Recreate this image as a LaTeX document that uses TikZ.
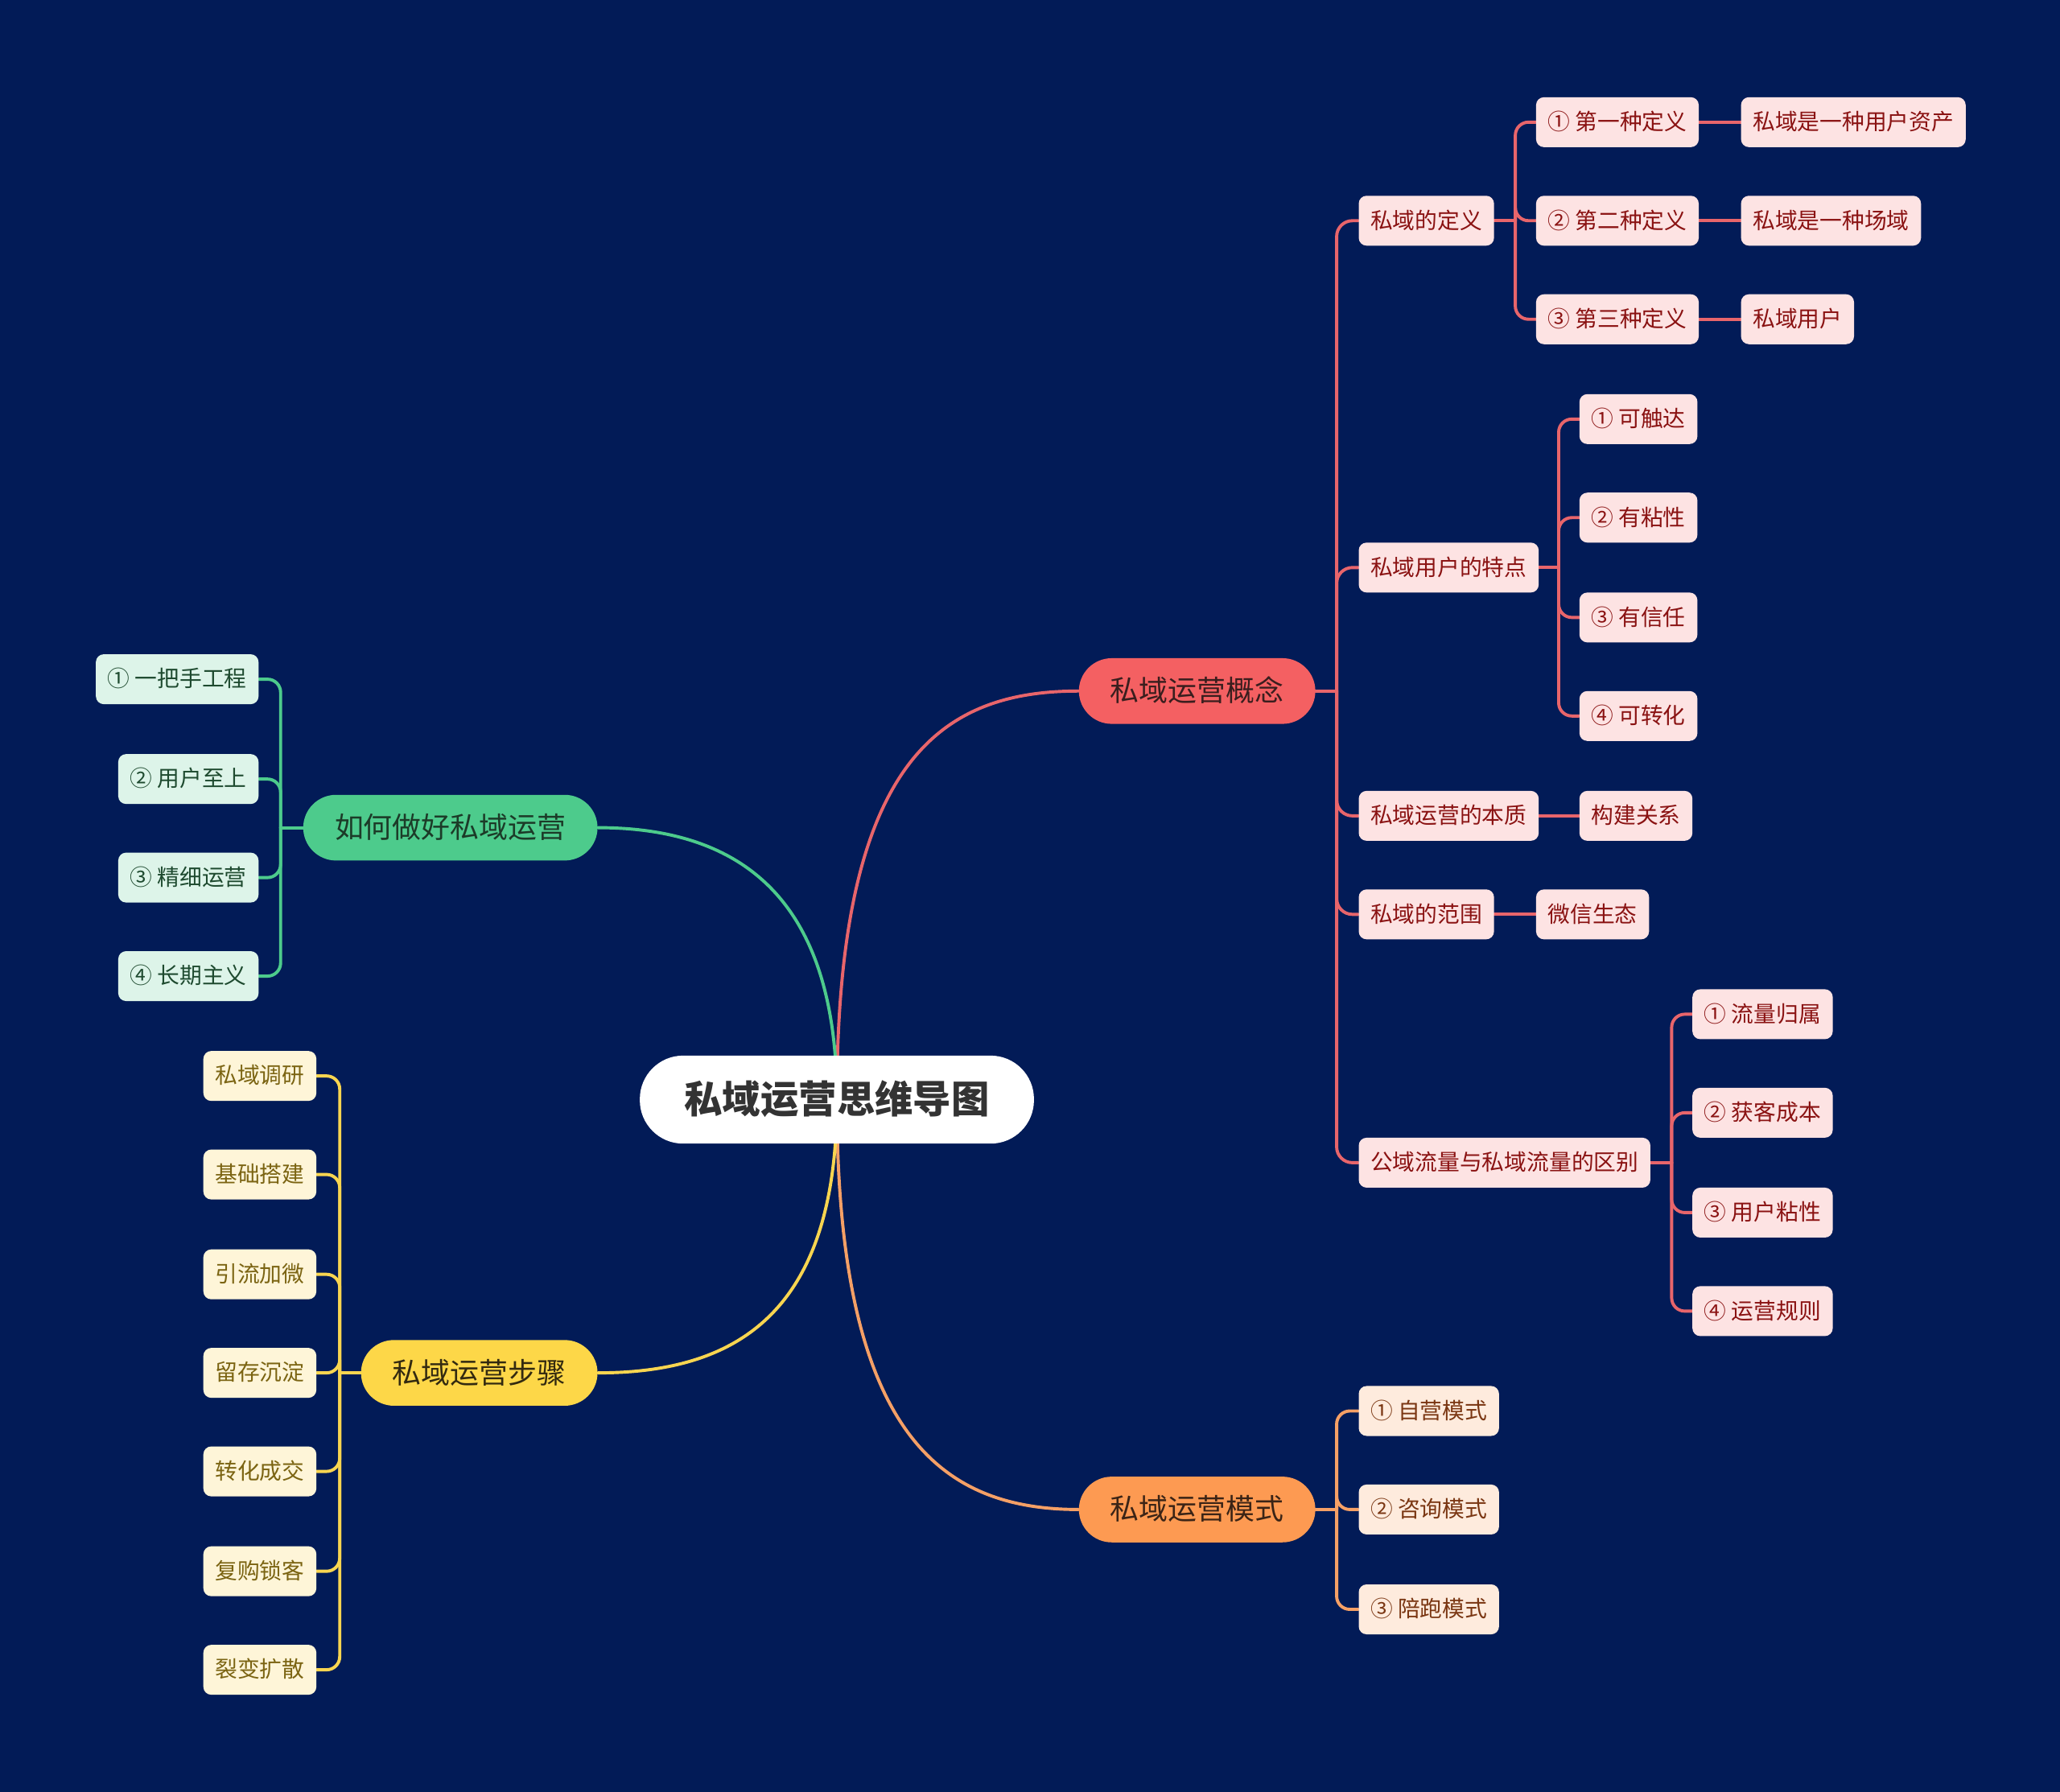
\documentclass[tikz,border=0pt]{standalone}
\usepackage{fontspec}
\setmainfont{Noto Sans CJK SC}
\usetikzlibrary{backgrounds}
\definecolor{bgc}{HTML}{021B57}
\definecolor{redmain}{HTML}{F46062}
\definecolor{redleaf}{HTML}{FDE3E3}
\definecolor{redtext}{HTML}{8A1212}
\definecolor{redline}{HTML}{E8656B}
\definecolor{redhead}{HTML}{3A1E1E}
\definecolor{ormain}{HTML}{FD9A52}
\definecolor{orleaf}{HTML}{FEEBDD}
\definecolor{ortext}{HTML}{7A3612}
\definecolor{orline}{HTML}{F5A066}
\definecolor{orhead}{HTML}{3B2416}
\definecolor{grmain}{HTML}{4DCB8C}
\definecolor{grleaf}{HTML}{DDF4E9}
\definecolor{grtext}{HTML}{1E4A2F}
\definecolor{grline}{HTML}{4DCB8C}
\definecolor{grhead}{HTML}{1C3B28}
\definecolor{ylmain}{HTML}{FDD748}
\definecolor{ylleaf}{HTML}{FEF5D8}
\definecolor{yltext}{HTML}{7B6412}
\definecolor{ylline}{HTML}{F8D550}
\definecolor{ylhead}{HTML}{332A10}
\pgfdeclarelayer{bgl}
\pgfsetlayers{bgl,background,main}
\tikzset{
  leaf/.style={rounded corners=6pt, inner xsep=9pt, inner ysep=0pt,
    minimum height=38pt, text height=14.5pt, text depth=2.5pt,
    font=\fontsize{17}{20}\selectfont},
  redleafbox/.style={leaf, fill=redleaf, text=redtext},
  orleafbox/.style={leaf, fill=orleaf, text=ortext},
  grleafbox/.style={leaf, fill=grleaf, text=grtext},
  ylleafbox/.style={leaf, fill=ylleaf, text=yltext},
  topic/.style={rounded corners=25pt, inner xsep=24pt, inner ysep=0pt,
    minimum height=50pt, text height=19pt, text depth=3pt,
    font=\fontsize{22}{26}\selectfont},
  centerbox/.style={rounded corners=33pt, fill=white, text=black!80,
    inner xsep=34pt, inner ysep=0pt, minimum height=67pt,
    text height=25pt, text depth=4pt,
    font=\fontsize{29}{34}\selectfont\bfseries},
  conn/.style={line width=2.4pt, line cap=round},
  rconn/.style={conn, draw=redline, rounded corners=12pt},
  oconn/.style={conn, draw=orline, rounded corners=10pt},
  gconn/.style={conn, draw=grline, rounded corners=10pt},
  yconn/.style={conn, draw=ylline, rounded corners=10pt},
}
\begin{document}
\begin{tikzpicture}[x=1pt,y=-1pt]
\begin{pgfonlayer}{bgl}
\fill[bgc] (0,0) rectangle (1568,1364);
\end{pgfonlayer}
\useasboundingbox (0,0) rectangle (1568,1364);

% central
\node[centerbox] (c) at (637,837) {私域运营思维导图};

% level 1
\node[topic, fill=redmain, text=redhead, anchor=west] (k1) at (821,526) {私域运营概念};
\node[topic, fill=ormain, text=orhead, anchor=west] (k2) at (821,1149) {私域运营模式};
\node[topic, fill=grmain, text=grhead, anchor=east] (k3) at (455,630) {如何做好私域运营};
\node[topic, fill=ylmain, text=ylhead, anchor=east] (k4) at (455,1045) {私域运营步骤};

% red level 2
\node[redleafbox, anchor=west] (d1) at (1034,168) {私域的定义};
\node[redleafbox, anchor=west] (d2) at (1034,432) {私域用户的特点};
\node[redleafbox, anchor=west] (d3) at (1034,621) {私域运营的本质};
\node[redleafbox, anchor=west] (d4) at (1034,696) {私域的范围};
\node[redleafbox, anchor=west] (d5) at (1034,885) {公域流量与私域流量的区别};

\node[redleafbox, anchor=west] (e1) at (1169,93) {① 第一种定义};
\node[redleafbox, anchor=west] (e2) at (1169,168) {② 第二种定义};
\node[redleafbox, anchor=west] (e3) at (1169,243) {③ 第三种定义};
\node[redleafbox, anchor=west] (f1) at (1325,93) {私域是一种用户资产};
\node[redleafbox, anchor=west] (f2) at (1325,168) {私域是一种场域};
\node[redleafbox, anchor=west] (f3) at (1325,243) {私域用户};

\node[redleafbox, anchor=west] (g1) at (1202,319) {① 可触达};
\node[redleafbox, anchor=west] (g2) at (1202,394) {② 有粘性};
\node[redleafbox, anchor=west] (g3) at (1202,470) {③ 有信任};
\node[redleafbox, anchor=west] (g4) at (1202,545) {④ 可转化};

\node[redleafbox, anchor=west] (h1) at (1202,621) {构建关系};
\node[redleafbox, anchor=west] (h2) at (1169,696) {微信生态};

\node[redleafbox, anchor=west] (i1) at (1288,772) {① 流量归属};
\node[redleafbox, anchor=west] (i2) at (1288,847) {② 获客成本};
\node[redleafbox, anchor=west] (i3) at (1288,923) {③ 用户粘性};
\node[redleafbox, anchor=west] (i4) at (1288,998) {④ 运营规则};

% orange
\node[orleafbox, anchor=west] (m1) at (1034,1074) {① 自营模式};
\node[orleafbox, anchor=west] (m2) at (1034,1149) {② 咨询模式};
\node[orleafbox, anchor=west] (m3) at (1034,1225) {③ 陪跑模式};

% green
\node[grleafbox, anchor=east] (n1) at (197,517) {① 一把手工程};
\node[grleafbox, anchor=east] (n2) at (197,593) {② 用户至上};
\node[grleafbox, anchor=east] (n3) at (197,668) {③ 精细运营};
\node[grleafbox, anchor=east] (n4) at (197,743) {④ 长期主义};

% yellow
\node[ylleafbox, anchor=east] (s1) at (241,819) {私域调研};
\node[ylleafbox, anchor=east] (s2) at (241,894) {基础搭建};
\node[ylleafbox, anchor=east] (s3) at (241,970) {引流加微};
\node[ylleafbox, anchor=east] (s4) at (241,1045) {留存沉淀};
\node[ylleafbox, anchor=east] (s5) at (241,1120) {转化成交};
\node[ylleafbox, anchor=east] (s6) at (241,1196) {复购锁客};
\node[ylleafbox, anchor=east] (s7) at (241,1271) {裂变扩散};

% trunk junction points
\coordinate (tk1) at ([xshift=16pt]k1.east);
\coordinate (tk2) at ([xshift=16pt]k2.east);
\coordinate (tk3) at ([xshift=-17pt]k3.west);
\coordinate (tk4) at ([xshift=-16pt]k4.west);
\coordinate (td1) at ([xshift=16pt]d1.east);
\coordinate (td2) at ([xshift=15pt]d2.east);
\coordinate (td5) at ([xshift=16pt]d5.east);

\begin{pgfonlayer}{background}
% central curves
\draw[conn, draw=redline] (c.center) .. controls (637,580) and (715,526) .. (k1.west);
\draw[conn, draw=orline] (c.center) .. controls (637,1090) and (715,1149) .. (k2.west);
\draw[conn, draw=grline] (c.center) .. controls (637,680) and (560,630) .. (k3.east);
\draw[conn, draw=ylline] (c.center) .. controls (637,1000) and (560,1045) .. (k4.east);

% red
\draw[rconn] (k1.east) -- (tk1);
\foreach \t in {d1,d2,d3,d4,d5}
  \draw[rconn] (tk1) |- (\t.west);
\draw[rconn] (d1.east) -- (td1);
\foreach \t in {e1,e2,e3}
  \draw[rconn, rounded corners=10pt] (td1) |- (\t.west);
\draw[rconn] (e1.east) -- (f1.west);
\draw[rconn] (e2.east) -- (f2.west);
\draw[rconn] (e3.east) -- (f3.west);
\draw[rconn] (d2.east) -- (td2);
\foreach \t in {g1,g2,g3,g4}
  \draw[rconn, rounded corners=10pt] (td2) |- (\t.west);
\draw[rconn] (d3.east) -- (h1.west);
\draw[rconn] (d4.east) -- (h2.west);
\draw[rconn] (d5.east) -- (td5);
\foreach \t in {i1,i2,i3,i4}
  \draw[rconn, rounded corners=10pt] (td5) |- (\t.west);

% orange
\draw[oconn] (k2.east) -- (tk2);
\foreach \t in {m1,m2,m3}
  \draw[oconn] (tk2) |- (\t.west);
% green
\draw[gconn] (k3.west) -- (tk3);
\foreach \t in {n1,n2,n3,n4}
  \draw[gconn] (tk3) |- (\t.east);
% yellow
\draw[yconn] (k4.west) -- (tk4);
\foreach \t in {s1,s2,s3,s4,s5,s6,s7}
  \draw[yconn] (tk4) |- (\t.east);
\end{pgfonlayer}
\end{tikzpicture}
\end{document}
